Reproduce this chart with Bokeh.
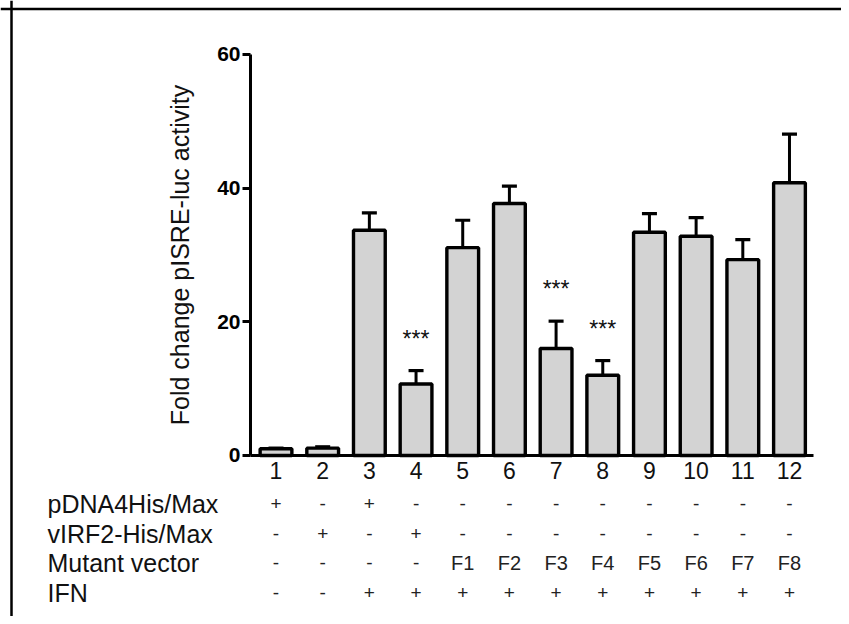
from bokeh.plotting import figure
from bokeh.models import (ColumnDataSource, LinearAxis, FixedTicker, Range1d,
                          Whisker, TeeHead, Span)
from bokeh.core.properties import value
from bokeh.embed import file_html
from bokeh.resources import INLINE

# ---- data ----
lanes = [1, 2, 3, 4, 5, 6, 7, 8, 9, 10, 11, 12]
lane_labels = ["1", "2", "3", "4", "5", "6", "7", "8", "9", "10", "11", "12"]
means = [1.0, 1.1, 33.7, 10.7, 31.1, 37.7, 16.0, 12.0, 33.4, 32.8, 29.3, 40.8]
errors = [0.1, 0.2, 2.6, 2.0, 4.1, 2.6, 4.1, 2.2, 2.8, 2.8, 3.0, 7.3]
stars = ["", "", "", "***", "", "", "***", "***", "", "", "", ""]
y_ticks = [0, 20, 40, 60]
y_label = "Fold change pISRE-luc activity"

row_names = ["pDNA4His/Max", "vIRF2-His/Max", "Mutant vector", "IFN"]
row_pdna = ["+", "-", "+", "-", "-", "-", "-", "-", "-", "-", "-", "-"]
row_virf2 = ["-", "+", "-", "+", "-", "-", "-", "-", "-", "-", "-", "-"]
row_mutant = ["-", "-", "-", "-", "F1", "F2", "F3", "F4", "F5", "F6", "F7", "F8"]
row_ifn = ["-", "-", "+", "+", "+", "+", "+", "+", "+", "+", "+", "+"]
rows = [row_pdna, row_virf2, row_mutant, row_ifn]

# ---- layout constants ----
W, H = 841, 616
PX_X, PX_Y = 46.68, 6.683          # pixels per data unit
X0 = -4.902
X1 = X0 + W / PX_X
Y1 = 68.08
Y0 = Y1 - H / PX_Y
row_y = [-7.19, -11.68, -16.02, -20.51]
FONT = "Liberation Sans"

p = figure(width=W, height=H, output_backend="svg", toolbar_location=None,
           x_range=Range1d(X0, X1), y_range=Range1d(Y0, Y1),
           x_axis_type=None, y_axis_type=None, min_border=0)
p.outline_line_color = None
p.grid.visible = False
p.background_fill_color = "white"

upper = [m + e for m, e in zip(means, errors)]
src = ColumnDataSource(dict(x=lanes, top=means, upper=upper, stars=stars,
                            star_y=[u + 4.75 for u in upper]))

p.vbar(x="x", top="top", bottom=0, width=0.68, source=src,
       fill_color="#d3d3d3", line_color="black", line_width=3.4)

wh = Whisker(base="x", upper="upper", lower="top", source=src,
             line_width=3, line_color="black",
             upper_head=TeeHead(size=15, line_width=3.2, line_color="black"),
             lower_head=None)
p.add_layout(wh)

p.text(x="x", y="star_y", text="stars", source=src, text_align="center",
       text_baseline="alphabetic", text_font=value(FONT),
       text_font_size="23px", text_color="#111111")

# axes
yaxis = LinearAxis(fixed_location=0.454, bounds=(0, 60),
                   ticker=FixedTicker(ticks=y_ticks, minor_ticks=[]),
                   axis_line_width=3, major_tick_line_width=3,
                   major_tick_out=8, major_tick_in=0,
                   major_label_standoff=2,
                   major_label_text_font=FONT,
                   major_label_text_font_size="21px",
                   major_label_text_font_style="bold",
                   major_label_text_color="black",
                   axis_label=y_label,
                   axis_label_text_font=FONT,
                   axis_label_text_font_size="25px",
                   axis_label_text_font_style="normal",
                   axis_label_text_color="#111111",
                   axis_label_standoff=20)
p.add_layout(yaxis, "left")

xaxis = LinearAxis(fixed_location=0, bounds=(0.454, 12.515),
                   ticker=FixedTicker(ticks=lanes, minor_ticks=[]),
                   axis_line_width=3, major_tick_line_color=None,
                   major_tick_out=0, major_tick_in=0,
                   major_label_standoff=7,
                   major_label_overrides={l: t for l, t in zip(lanes, lane_labels)},
                   major_label_text_font=FONT,
                   major_label_text_font_size="23px",
                   major_label_text_color="#111111")
p.add_layout(xaxis, "below")

# condition table
for name, vals, ry in zip(row_names, rows, row_y):
    p.text(x=[X0 + 47 / PX_X], y=[ry], text=[name], text_align="left",
           text_baseline="middle", text_font=value(FONT),
           text_font_size="25px", text_color="#111111")
    sizes = ["20px" if v.startswith("F") else "19px" for v in vals]
    p.text(x=lanes, y=[ry] * len(lanes), text=vals, text_align="center",
           text_baseline="middle", text_font=value(FONT),
           text_font_size=sizes, text_color="#222222")

# frame lines (left and top)
p.add_layout(Span(location=X0 + 11 / PX_X, dimension="height",
                  line_color="black", line_width=2.5))
p.add_layout(Span(location=Y1 - 8.5 / PX_Y, dimension="width",
                  line_color="black", line_width=2.5))

open("out.html", "w").write(file_html(p, INLINE))
